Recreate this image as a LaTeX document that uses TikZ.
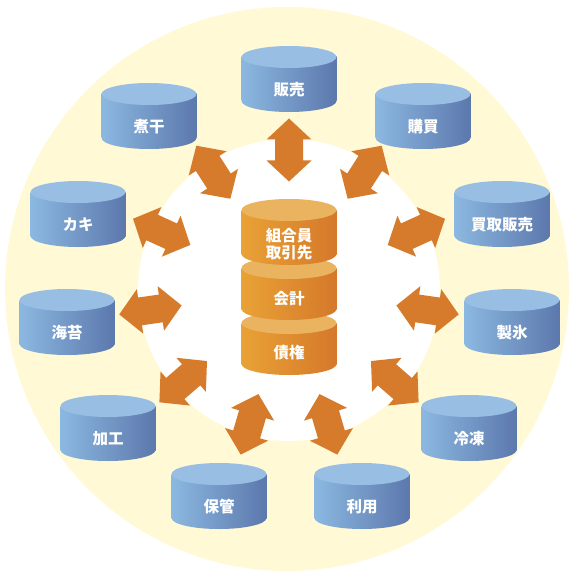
\documentclass[tikz,border=0pt]{standalone}
\usepackage{fontspec}
\newfontfamily\cjk{Noto Sans CJK JP}
\definecolor{cream}{HTML}{FFF9D6}
\definecolor{blueTop}{HTML}{98BFE3}
\definecolor{blueL}{HTML}{8BB8E0}
\definecolor{blueR}{HTML}{5C78AD}
\definecolor{orTop}{HTML}{E9B35F}
\definecolor{orL}{HTML}{E9A236}
\definecolor{orR}{HTML}{D5782A}
\definecolor{arrowC}{HTML}{D67B2B}
\newcommand\mycyl[6]{% cx, ytop, height, top, left, right
  \path[left color=#5, right color=#6] (#1-47.5,#2+11) rectangle (#1+47.5,#2+#3-11);
  \path[left color=#5, right color=#6] (#1,#2+#3-11) ellipse[x radius=47.5, y radius=11];
  \fill[#4] (#1,#2+11) ellipse[x radius=47.5, y radius=11];
}
\newcommand\bluecyl[4]{% name, cx, ytop, label
  \mycyl{#2}{#3}{66}{blueTop}{blueL}{blueR}
  \node[lab] (#1) at (#2,#3+44) {#4};
}
\tikzset{lab/.style={text=white, font=\cjk\bfseries\fontsize{15.5}{17}\selectfont, inner sep=0pt, align=center}}
\begin{document}
\begin{tikzpicture}[x=1pt,y=-1pt]
\useasboundingbox (0,0) rectangle (570,572);
\coordinate (hub) at (289,290);
\fill[cream] (287,289) circle[radius=282];
\fill[white] (hub) circle[radius=151];
% blue cylinders
\bluecyl{hanbai}{289}{46}{販売}
\bluecyl{kobai}{423}{83}{購買}
\bluecyl{kaitori}{502}{181}{買取販売}
\bluecyl{seihyo}{512}{289}{製氷}
\bluecyl{reito}{469}{395}{冷凍}
\bluecyl{riyo}{362}{463}{利用}
\bluecyl{hokan}{219}{463}{保管}
\bluecyl{kako}{108}{395}{加工}
\bluecyl{nori}{67}{289}{海苔}
\bluecyl{kaki}{78}{181}{カキ}
\bluecyl{niboshi}{149}{83}{煮干}
% arrows
\foreach \k in {0,...,10}{
  \begin{scope}[shift={(hub)}, rotate={90-\k*360/11}]
    \fill[arrowC] (108.5,0) -- (129.5,22.5) -- (129.5,14) -- (150.5,14) -- (150.5,22.5)
      -- (171.5,0) -- (150.5,-22.5) -- (150.5,-14) -- (129.5,-14) -- (129.5,-22.5) -- cycle;
  \end{scope}
}
% central stack
\mycyl{289}{312}{63}{orTop}{orL}{orR}
\node[lab] (saiken) at (289,353) {債権};
\mycyl{289}{257}{63}{orTop}{orL}{orR}
\node[lab] (kaikei) at (289,299) {会計};
\mycyl{289}{199}{66}{orTop}{orL}{orR}
\node[lab] (kumiai) at (289,244.5) {組合員\\取引先};
\end{tikzpicture}
\end{document}
